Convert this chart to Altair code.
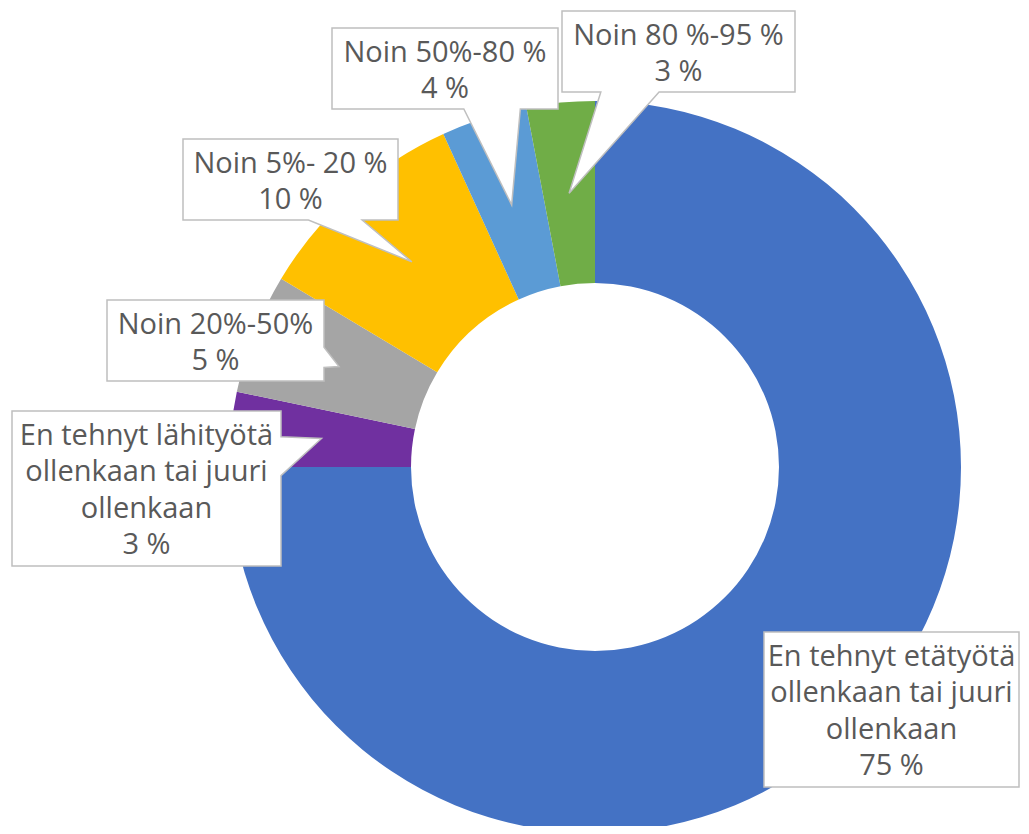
import textwrap
import math
import pandas as pd
import altair as alt

# ---- data (clockwise from 12 o'clock) ----
categories = [
    "En tehnyt etätyötä ollenkaan tai juuri ollenkaan",
    "En tehnyt lähityötä ollenkaan tai juuri ollenkaan",
    "Noin 20%-50%",
    "Noin 5%- 20 %",
    "Noin 50%-80 %",
    "Noin 80 %-95 %",
]
values = [75.0, 3.3, 5.3, 9.6, 3.8, 3.0]
colors = ["#4472C4", "#7030A0", "#A5A5A5", "#FFC000", "#5B9BD5", "#70AD47"]

# ---- layout (image pixels) ----
MARGIN = 8
CX, CY = 595 - MARGIN, 467 - MARGIN
R_OUT, R_IN = 366, 184
FONT = "Open Sans"
FONT_SIZE = 29
LINE_H = 36.5
TEXT_COLOR = "#595959"
BOX_STROKE = "#BFBFBF"

# label boxes: left, top, right, bottom (image px), same order as categories
label_boxes = [
    (764, 632, 1019, 787),
    (12, 411, 281, 566),
    (107, 300, 324, 381),
    (183, 139, 398, 220),
    (332, 28, 558, 109),
    (562, 11, 795, 92),
]

slices = pd.DataFrame({"category": categories, "value": values, "idx": range(len(values))})

total = sum(values)
rows_box, rows_txt = [], []
cum = 0.0
for cat, v, (L, T, R, B) in zip(categories, values, label_boxes):
    L, T, R, B = L - MARGIN, T - MARGIN, R - MARGIN, B - MARGIN
    mid = (cum + v / 2) / total * 2 * math.pi
    cum += v
    rmid = (R_OUT + R_IN) / 2
    tipx = CX + rmid * math.sin(mid)
    tipy = CY - rmid * math.cos(mid)
    w, h = R - L, B - T
    hc, vc = (L + R) / 2, (T + B) / 2
    dx, dy = tipx - hc, tipy - vc
    inside = L <= tipx <= R and T <= tipy <= B
    vertical = abs(dy) > abs(dx * h / w)
    xg1, xg2 = (7, 10) if dx > 0 else (2, 5)
    yg1, yg2 = (7, 10) if dy > 0 else (2, 5)
    x1, x2 = L + w * xg1 / 12, L + w * xg2 / 12
    y1, y2 = T + h * yg1 / 12, T + h * yg2 / 12
    tip = (tipx, tipy)
    pts = [(L, T)]
    if not inside and vertical and dy < 0:
        pts += [(x1, T), tip, (x2, T)]
    pts.append((R, T))
    if not inside and not vertical and dx > 0:
        pts += [(R, y1), tip, (R, y2)]
    pts.append((R, B))
    if not inside and vertical and dy > 0:
        pts += [(x2, B), tip, (x1, B)]
    pts.append((L, B))
    if not inside and not vertical and dx < 0:
        pts += [(L, y2), tip, (L, y1)]
    path = "M" + " L".join(f"{px - hc:.2f},{py - vc:.2f}" for px, py in pts) + " Z"
    rows_box.append({"cx": hc, "cy": vc, "path": path})
    lines = textwrap.wrap(cat, 19) + [f"{round(v)} %"]
    rows_txt.append({"tx": hc, "ty": T + 33.5, "label": "\n".join(lines)})

boxes = pd.DataFrame(rows_box)
texts = pd.DataFrame(rows_txt)

arcs = alt.Chart(slices).mark_arc(radius=R_OUT, radius2=R_IN).encode(
    theta=alt.Theta("value:Q", stack=True),
    color=alt.Color("category:N", scale=alt.Scale(domain=categories, range=colors), legend=None),
    order=alt.Order("idx:Q"),
    x=alt.value(CX),
    y=alt.value(CY),
)

callouts = alt.Chart(boxes).mark_point(
    filled=True, fill="white", stroke=BOX_STROKE, strokeWidth=1.5, opacity=1, size=4
).encode(
    x=alt.X("cx:Q", scale=None, axis=None),
    y=alt.Y("cy:Q", scale=None, axis=None),
    shape=alt.Shape("path:N", scale=None, legend=None),
)

labels = alt.Chart(texts).mark_text(
    font=FONT, fontSize=FONT_SIZE, color=TEXT_COLOR, lineBreak="\n",
    lineHeight=LINE_H, align="center", baseline="alphabetic"
).encode(
    x=alt.X("tx:Q", scale=None, axis=None),
    y=alt.Y("ty:Q", scale=None, axis=None),
    text="label:N",
)

chart = alt.layer(arcs, callouts, labels).properties(
    width=1013, height=818, padding=0,
    autosize=alt.AutoSizeParams(type="none"),
    background="white",
).configure_view(stroke=None)

chart.save("out.html", embed_options={"renderer": "svg", "actions": False})
